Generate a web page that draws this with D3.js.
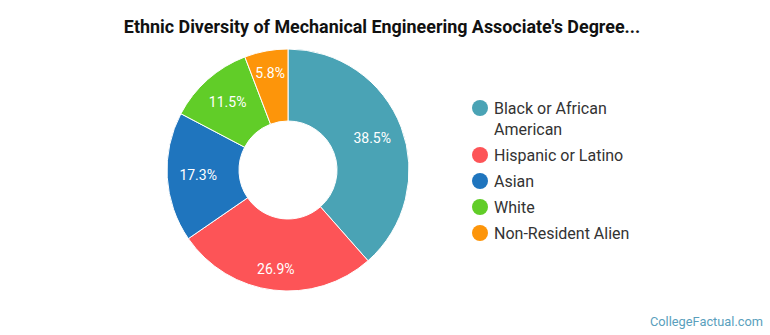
<!DOCTYPE html>
<html>
<head>
<meta charset="utf-8">
<script src="https://cdn.jsdelivr.net/npm/d3@7"></script>
<style>
  body { margin: 0; background: #fff; font-family: Roboto, "Open Sans", sans-serif; }
</style>
</head>
<body>
<div id="chart"></div>
<script>
// Chart data
const categories = ['Black or African American', 'Hispanic or Latino', 'Asian', 'White', 'Non-Resident Alien'];
const shares = [38.5, 26.9, 17.3, 11.5, 5.8];
const colors = ['#4aa3b5', '#fd5457', '#1f75be', '#61cd28', '#fd950a'];
const legendLines = [['Black or African', 'American'], ['Hispanic or Latino'], ['Asian'], ['White'], ['Non-Resident Alien']];

const width = 770;
const height = 335;

const svg = d3.select('#chart')
    .append('svg')
    .attr('width', width)
    .attr('height', height);

// Title
svg.append('text')
    .attr('x', 382)
    .attr('y', 33)
    .attr('text-anchor', 'middle')
    .style('font-size', '17.9px')
    .style('font-weight', 'bold')
    .style('fill', '#111')
    .text("Ethnic Diversity of Mechanical Engineering Associate's Degree...");

// Donut
const outerR = 121;
const innerR = 49;
const g = svg.append('g')
    .attr('transform', 'translate(288,170)');

const pie = d3.pie().sort(null).value(d => d)(shares);
const arc = d3.arc().innerRadius(innerR).outerRadius(outerR);

g.selectAll('path.slice')
    .data(pie)
    .join('path')
    .attr('class', 'slice')
    .attr('d', arc)
    .style('fill', (d, i) => colors[i])
    .style('stroke', '#fff')
    .style('stroke-width', 1);

// labels sit a little further out near the top and bottom
function labelPos(d) {
    const a = (d.startAngle + d.endAngle) / 2;
    const r = 90 + 10 * Math.pow(Math.abs(Math.cos(a)), 8);
    return [Math.sin(a) * r, -Math.cos(a) * r];
}

g.selectAll('text.pct')
    .data(pie)
    .join('text')
    .attr('class', 'pct')
    .attr('transform', d => `translate(${labelPos(d)})`)
    .attr('text-anchor', 'middle')
    .attr('dy', '0.35em')
    .style('font-size', '14px')
    .style('fill', '#fff')
    .text(d => d.data.toFixed(1) + '%');

// Legend
const legendY = d3.scaleOrdinal()
    .domain(categories)
    .range([108, 155, 181, 207, 233]);

const legend = svg.append('g').attr('class', 'legend');

categories.forEach((c, i) => {
    const row = legend.append('g')
        .attr('transform', `translate(480,${legendY(c)})`);
    row.append('circle')
        .attr('r', 8)
        .style('fill', colors[i]);
    const t = row.append('text')
        .attr('x', 14)
        .attr('dy', '0.35em')
        .style('font-size', '16px')
        .style('fill', '#333');
    legendLines[i].forEach((line, j) => {
        t.append('tspan')
            .attr('x', 14)
            .attr('dy', j === 0 ? '0.35em' : '21px')
            .text(line);
    });
});

// Watermark
svg.append('text')
    .attr('x', 763)
    .attr('y', 326)
    .attr('text-anchor', 'end')
    .style('font-size', '12.8px')
    .style('fill', '#5a9fbd')
    .text('CollegeFactual.com');
</script>
</body>
</html>
